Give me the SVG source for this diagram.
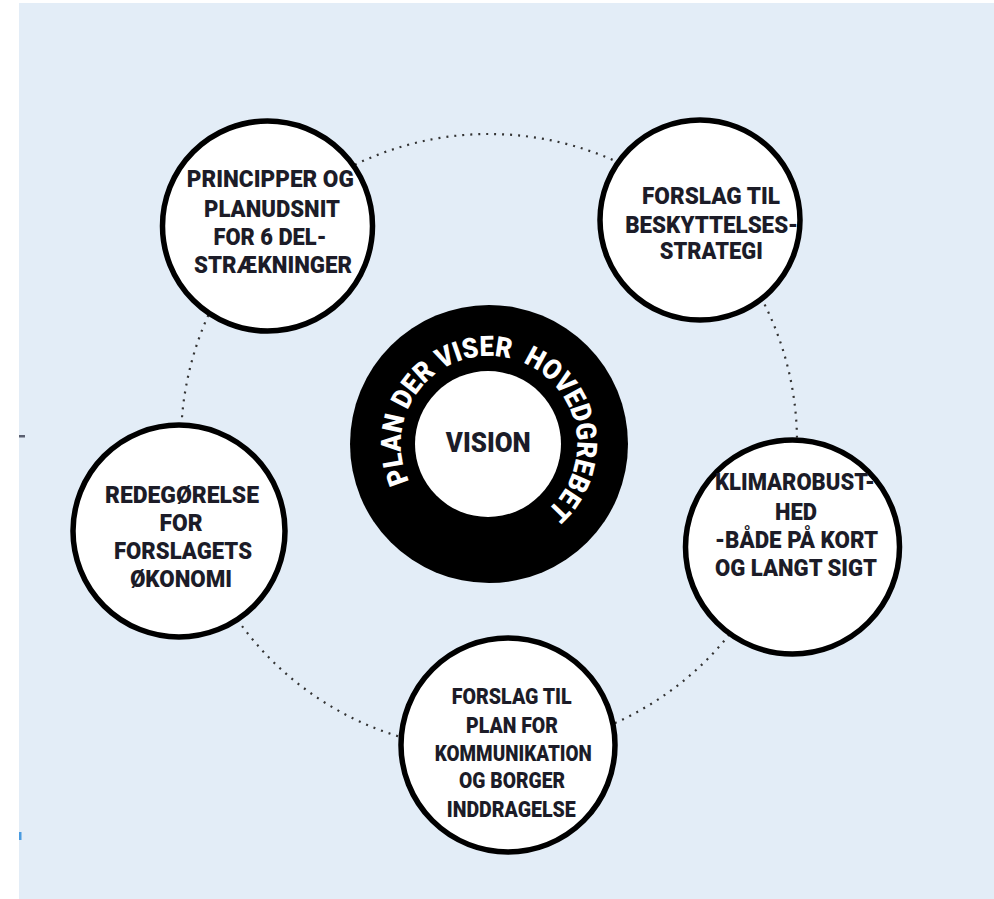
<svg xmlns="http://www.w3.org/2000/svg" xmlns:xlink="http://www.w3.org/1999/xlink" width="994" height="899" viewBox="0 0 994 899">
<style>
.bg{fill:#E3EDF7}
.node{fill:#fff;stroke:#000;stroke-width:5.5}
.lbl{font-family:Roboto,"Liberation Sans",sans-serif;font-weight:900;fill:#1c1c28;text-anchor:middle}
.n{font-size:23px}
.ring{font-family:Roboto,"Liberation Sans",sans-serif;font-weight:900;font-size:28px;fill:#fff}
.dots{fill:none;stroke:#333;stroke-width:2.2;stroke-dasharray:2 6}
</style>
<defs>
<path id="ringPath" d="M 409.2 481.2 A 88 88 0 1 1 568.8 406.8 A 88 88 0 1 1 409.2 481.2"/>
</defs>
<rect class="bg" x="19" y="3" width="975" height="896"/>
<rect x="19" y="435" width="6" height="2.5" fill="#5a5f70"/>
<rect x="19" y="832" width="2.5" height="8" fill="#4a9be0"/>
<g id="connectors">
<circle class="dots" cx="489" cy="442" r="308"/>
</g>
<g id="center">
<circle cx="489" cy="444" r="139" fill="#000"/>
<circle cx="488" cy="444" r="73" fill="#fff"/>
<text class="lbl" x="488.3" y="451.7" font-size="28" textLength="85" lengthAdjust="spacingAndGlyphs">VISION</text>
<text class="ring" xml:space="preserve"><textPath xlink:href="#ringPath" href="#ringPath" textLength="390" lengthAdjust="spacingAndGlyphs">PLAN DER VISER  HOVEDGREBET</textPath></text>
</g>
<g id="node-principper">
<circle class="node" cx="267.5" cy="226" r="105"/>
<text class="lbl n" x="270.3" y="186.5" textLength="167" lengthAdjust="spacingAndGlyphs">PRINCIPPER OG</text>
<text class="lbl n" x="272" y="216.5" textLength="136" lengthAdjust="spacingAndGlyphs">PLANUDSNIT</text>
<text class="lbl n" x="270" y="245" textLength="113" lengthAdjust="spacingAndGlyphs">FOR 6 DEL-</text>
<text class="lbl n" x="273" y="273" textLength="158" lengthAdjust="spacingAndGlyphs">STRÆKNINGER</text>
</g>
<g id="node-beskyttelse">
<circle class="node" cx="700" cy="220" r="100"/>
<text class="lbl n" x="711" y="204" textLength="138" lengthAdjust="spacingAndGlyphs">FORSLAG TIL</text>
<text class="lbl n" x="711.7" y="232.7" textLength="173" lengthAdjust="spacingAndGlyphs">BESKYTTELSES-</text>
<text class="lbl n" x="711.3" y="259.3" textLength="103" lengthAdjust="spacingAndGlyphs">STRATEGI</text>
</g>
<g id="node-klima">
<circle class="node" cx="792.5" cy="547" r="107"/>
<text class="lbl n" x="795" y="490" textLength="160" lengthAdjust="spacingAndGlyphs">KLIMAROBUST-</text>
<text class="lbl n" x="796" y="520" textLength="42" lengthAdjust="spacingAndGlyphs">HED</text>
<text class="lbl n" x="796.5" y="548" textLength="163" lengthAdjust="spacingAndGlyphs">-BÅDE PÅ KORT</text>
<text class="lbl n" x="796" y="576" textLength="162" lengthAdjust="spacingAndGlyphs">OG LANGT SIGT</text>
</g>
<g id="node-oekonomi">
<circle class="node" cx="179" cy="531" r="106"/>
<text class="lbl n" x="182" y="502.7" textLength="154" lengthAdjust="spacingAndGlyphs">REDEGØRELSE</text>
<text class="lbl n" x="181" y="531" textLength="43" lengthAdjust="spacingAndGlyphs">FOR</text>
<text class="lbl n" x="183" y="559.3" textLength="138" lengthAdjust="spacingAndGlyphs">FORSLAGETS</text>
<text class="lbl n" x="181" y="586.7" textLength="102" lengthAdjust="spacingAndGlyphs">ØKONOMI</text>
</g>
<g id="node-kommunikation">
<circle class="node" cx="508" cy="745" r="107"/>
<text class="lbl" font-size="22" x="511.7" y="704" textLength="120" lengthAdjust="spacingAndGlyphs">FORSLAG TIL</text>
<text class="lbl" font-size="22" x="512" y="732.7" textLength="92" lengthAdjust="spacingAndGlyphs">PLAN FOR</text>
<text class="lbl" font-size="22" x="513.3" y="760.7" textLength="157" lengthAdjust="spacingAndGlyphs">KOMMUNIKATION</text>
<text class="lbl" font-size="22" x="512" y="788.3" textLength="106" lengthAdjust="spacingAndGlyphs">OG BORGER</text>
<text class="lbl" font-size="22" x="511.3" y="817.3" textLength="129" lengthAdjust="spacingAndGlyphs">INDDRAGELSE</text>
</g>
</svg>
